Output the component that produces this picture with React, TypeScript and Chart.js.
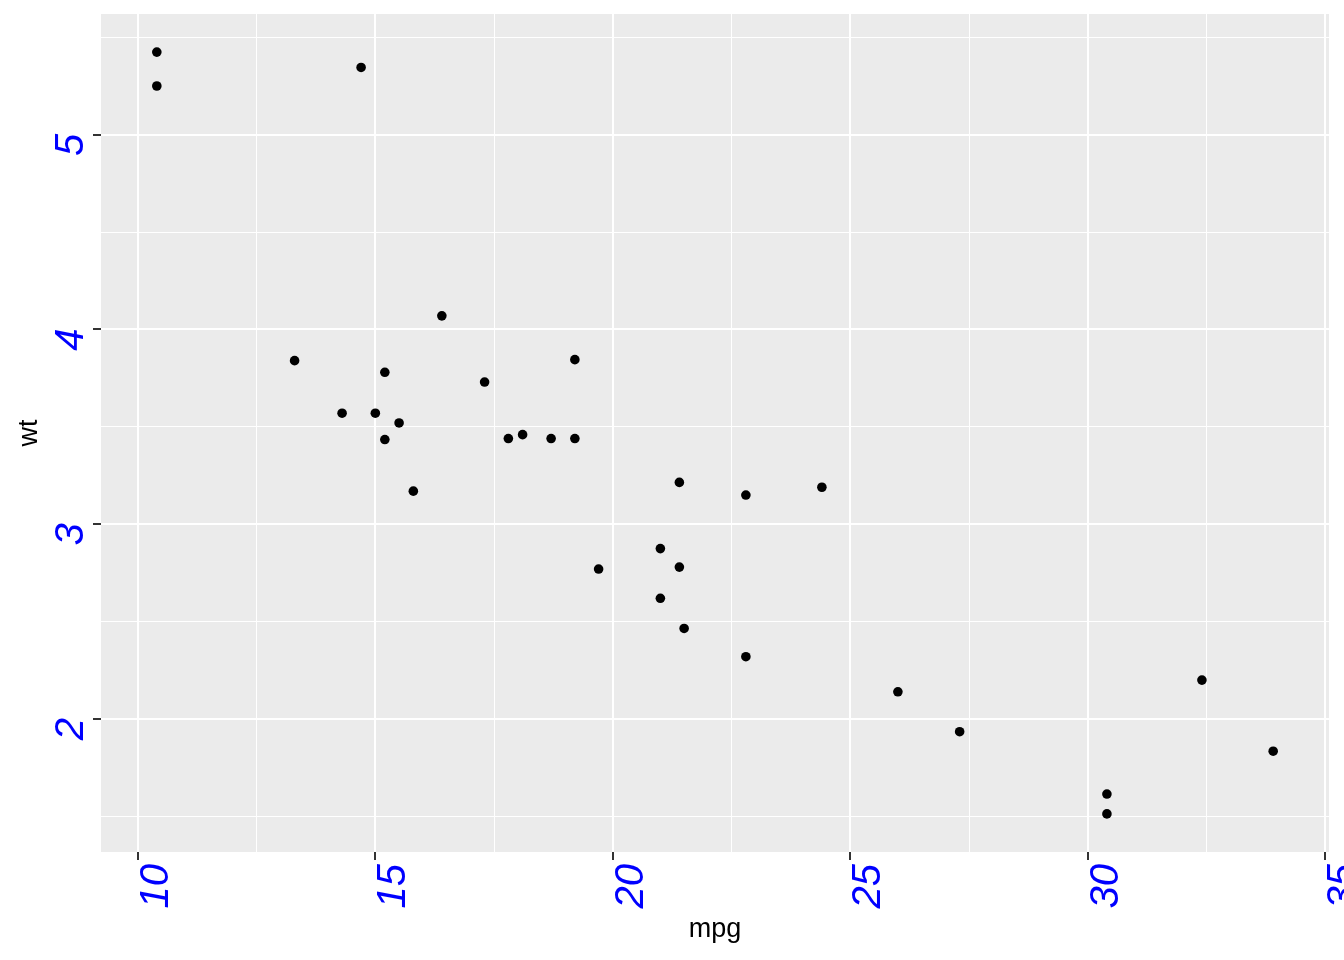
import React, { useEffect, useRef } from 'react';
import { Chart, registerables } from 'chart.js';

Chart.register(...registerables);

const mpg = [21.0, 21.0, 22.8, 21.4, 18.7, 18.1, 14.3, 24.4, 22.8, 19.2, 17.8, 16.4, 17.3, 15.2, 10.4, 10.4, 14.7, 32.4, 30.4, 33.9, 21.5, 15.5, 15.2, 13.3, 19.2, 27.3, 26.0, 30.4, 15.8, 19.7, 15.0, 21.4];
const wt = [2.62, 2.875, 2.32, 3.215, 3.44, 3.46, 3.57, 3.19, 3.15, 3.44, 3.44, 4.07, 3.73, 3.78, 5.25, 5.424, 5.345, 2.2, 1.615, 1.835, 2.465, 3.52, 3.435, 3.84, 3.845, 1.935, 2.14, 1.513, 3.17, 2.77, 3.57, 2.78];

const xMajor = [10, 15, 20, 25, 30, 35];
const xMinor = [12.5, 17.5, 22.5, 27.5, 32.5];
const yMajor = [2, 3, 4, 5];
const yMinor = [1.5, 2.5, 3.5, 4.5, 5.5];
const xTickLabels = ['10', '15', '20', '25', '30', '35'];
const yTickLabels = ['2', '3', '4', '5'];
const xTitle = 'mpg';
const yTitle = 'wt';

const expand = (vals: number[]) => {
  const lo = Math.min(...vals);
  const hi = Math.max(...vals);
  const pad = (hi - lo) * 0.05;
  return [lo - pad, hi + pad];
};

const [xMin, xMax] = expand(mpg);
const [yMin, yMax] = expand(wt);

const TICK_FONT = 'italic 40px "Liberation Sans", Arial, sans-serif';
const TITLE_FONT = '27px "Liberation Sans", Arial, sans-serif';

const ggPlugin = {
  id: 'ggStyle',
  beforeDraw(chart: any) {
    const { ctx, chartArea: a } = chart;
    ctx.save();
    ctx.fillStyle = '#EBEBEB';
    ctx.fillRect(a.left, a.top, a.right - a.left, a.bottom - a.top);
    ctx.restore();
  },
  afterDraw(chart: any) {
    const { ctx, chartArea: a } = chart;
    const xs = chart.scales.x;
    const ys = chart.scales.y;
    ctx.save();
    ctx.fillStyle = '#0000FF';
    ctx.font = TICK_FONT;
    ctx.textBaseline = 'alphabetic';
    ctx.textAlign = 'right';
    xMajor.forEach((v, i) => {
      const px = xs.getPixelForValue(v);
      ctx.save();
      ctx.translate(px + 30, a.bottom + 12);
      ctx.rotate(-Math.PI / 2);
      ctx.fillText(xTickLabels[i], 0, 0);
      ctx.restore();
    });
    yMajor.forEach((v, i) => {
      const py = ys.getPixelForValue(v);
      ctx.save();
      ctx.translate(a.left - 18, py - 1);
      ctx.rotate(-Math.PI / 2);
      ctx.fillText(yTickLabels[i], 0, 0);
      ctx.restore();
    });
    ctx.fillStyle = '#000000';
    ctx.font = TITLE_FONT;
    ctx.textAlign = 'center';
    ctx.fillText(xTitle, (a.left + a.right) / 2, 937);
    ctx.save();
    ctx.translate(37, (a.top + a.bottom) / 2);
    ctx.rotate(-Math.PI / 2);
    ctx.fillText(yTitle, 0, 0);
    ctx.restore();
    ctx.restore();
  },
};

const isMajor = (v: number, majors: number[]) => majors.some((m) => Math.abs(m - v) < 1e-9);

export default function App() {
  const ref = useRef<HTMLCanvasElement | null>(null);
  useEffect(() => {
    document.body.style.margin = '0';
    if (!ref.current) return;
    const points = mpg.map((m, i) => ({ x: m, y: wt[i] }));
    const gridOpts = (majors: number[]) => ({
      color: '#FFFFFF',
      lineWidth: (c: any) => (isMajor(c.tick?.value, majors) ? 2 : 1),
      tickColor: (c: any) => (isMajor(c.tick?.value, majors) ? '#333333' : 'rgba(0,0,0,0)'),
      tickWidth: 2,
      tickLength: 8,
      drawTicks: true,
    });
    const chart = new Chart(ref.current, {
      type: 'scatter',
      data: {
        datasets: [
          {
            data: points,
            backgroundColor: '#000000',
            borderWidth: 0,
            pointRadius: 4.8,
            pointHoverRadius: 4.8,
          },
        ],
      },
      plugins: [ggPlugin],
      options: {
        animation: false,
        responsive: false,
        devicePixelRatio: 1,
        events: [],
        layout: { padding: { top: 14, right: 15, left: 0, bottom: 0 } },
        plugins: { legend: { display: false }, tooltip: { enabled: false } },
        scales: {
          x: {
            type: 'linear',
            min: xMin,
            max: xMax,
            border: { display: false },
            grid: gridOpts(xMajor) as any,
            ticks: { display: false },
            afterBuildTicks: (s: any) => {
              s.ticks = [...xMajor, ...xMinor].sort((p, q) => p - q).map((v) => ({ value: v }));
            },
            afterFit: (s: any) => {
              s.height = 108;
            },
          },
          y: {
            type: 'linear',
            min: yMin,
            max: yMax,
            border: { display: false },
            grid: gridOpts(yMajor) as any,
            ticks: { display: false },
            afterBuildTicks: (s: any) => {
              s.ticks = [...yMajor, ...yMinor].sort((p, q) => p - q).map((v) => ({ value: v }));
            },
            afterFit: (s: any) => {
              s.width = 101;
            },
          },
        },
      },
    });
    return () => chart.destroy();
  }, []);
  return (
    <div style={{ position: 'absolute', left: 0, top: 0, width: 1344, height: 960, background: '#FFFFFF' }}>
      <canvas ref={ref} width={1344} height={960} style={{ width: 1344, height: 960, display: 'block' }} />
    </div>
  );
}
